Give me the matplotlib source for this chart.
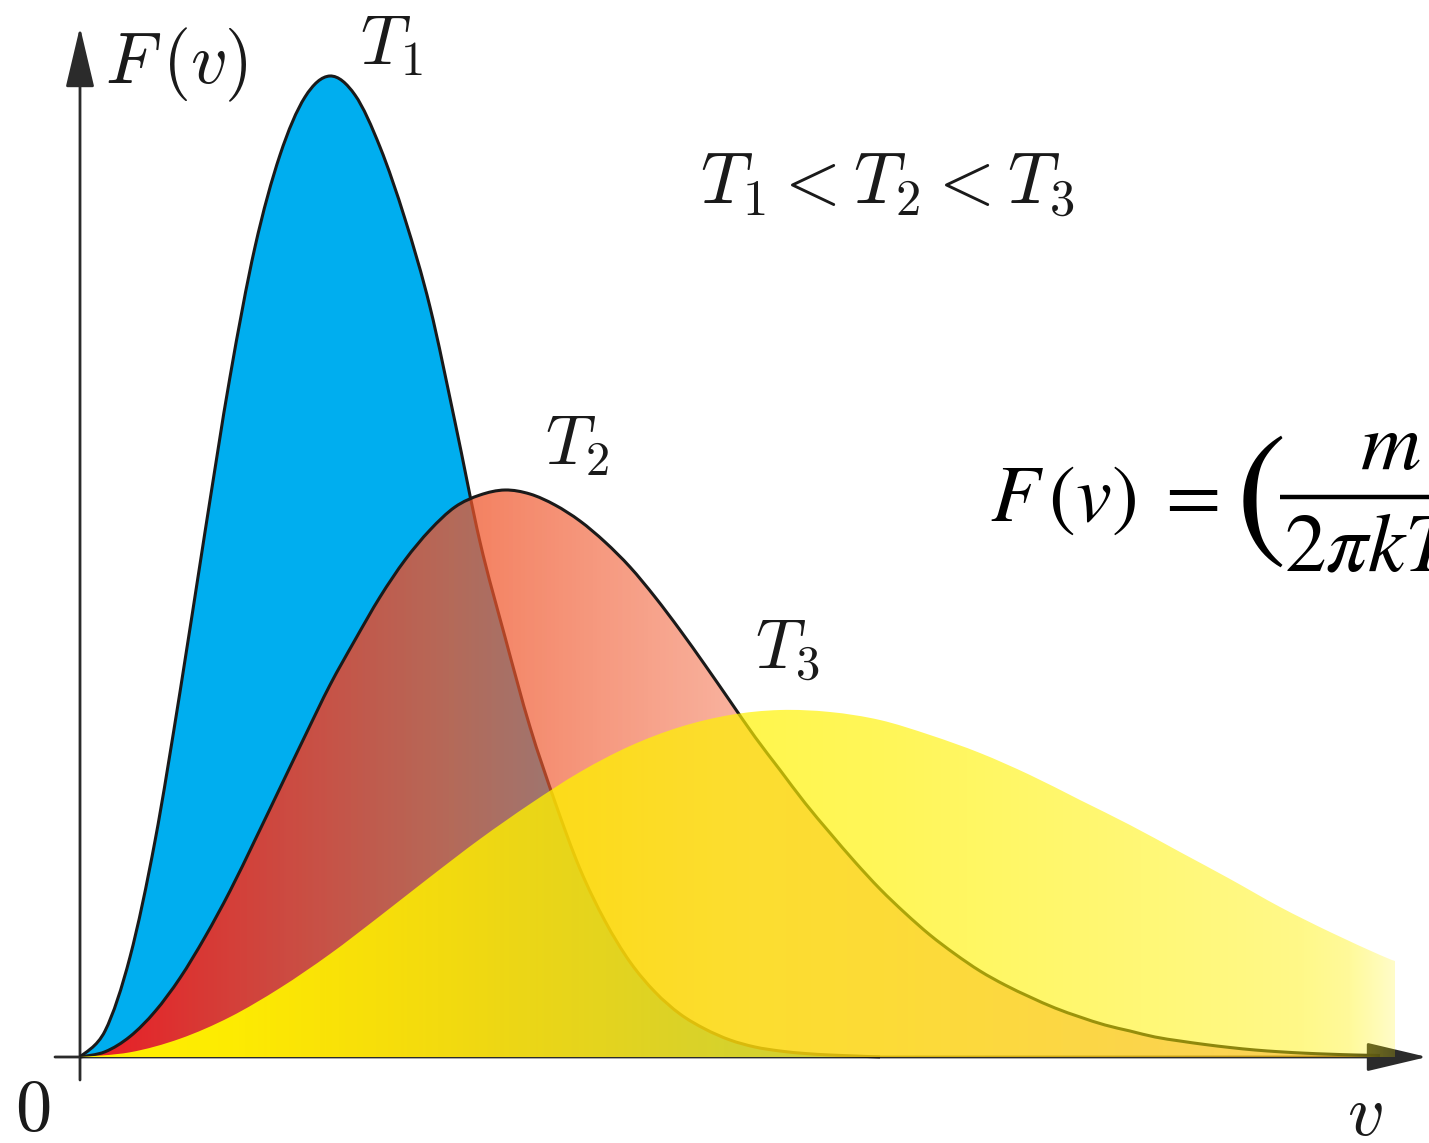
import numpy as np
import matplotlib
matplotlib.use("Agg")
import matplotlib.pyplot as plt
from matplotlib.patches import PathPatch, FancyArrowPatch
from matplotlib.path import Path

plt.rcParams['mathtext.fontset'] = 'cm'

# speed v and F(v) (arbitrary units)
T1_v = [0, 0.25, 0.5, 0.75, 1.0, 1.25, 1.5, 1.75, 2.0, 2.25, 2.5, 2.75, 3.0,
        3.25, 3.5, 3.75, 4.0, 4.25, 4.5, 4.75, 5.0, 5.25, 5.5, 5.75, 6.0,
        6.25, 6.5, 6.75, 7.0, 7.25, 7.5, 7.75, 8.0]
T1_F = [0, 0.26, 1.0, 2.16, 3.65, 5.25, 6.8, 8.1, 9.02, 9.6, 9.81, 9.62, 9.1,
        8.38, 7.5, 6.35, 5.15, 4.2, 3.3, 2.55, 1.88, 1.36, 0.95, 0.65, 0.43,
        0.28, 0.17, 0.1, 0.06, 0.035, 0.02, 0.01, 0.0]

T2_v = [0, 0.25, 0.5, 0.75, 1.0, 1.25, 1.5, 1.75, 2.0, 2.25, 2.5, 2.75, 3.0,
        3.25, 3.5, 3.75, 4.0, 4.25, 4.5, 4.75, 5.0, 5.25, 5.5, 5.75, 6.0,
        6.25, 6.5, 6.75, 7.0, 7.25, 7.5, 7.75, 8.0, 8.25, 8.5, 8.75, 9.0,
        9.25, 9.5, 9.75, 10.0, 10.25, 10.5, 10.75, 11.0, 11.25, 11.5, 11.75,
        12.0, 12.25, 12.5, 12.75, 13.0]
T2_F = [0, 0.052, 0.205, 0.455, 0.79, 1.2, 1.66, 2.17, 2.69, 3.21, 3.72, 4.17,
        4.6, 4.97, 5.27, 5.5, 5.62, 5.67, 5.63, 5.52, 5.36, 5.15, 4.9, 4.6,
        4.27, 3.92, 3.56, 3.2, 2.87, 2.54, 2.24, 1.95, 1.68, 1.44, 1.22, 1.03,
        0.86, 0.72, 0.6, 0.49, 0.4, 0.32, 0.26, 0.2, 0.16, 0.125, 0.095, 0.07,
        0.052, 0.038, 0.028, 0.02, 0.015]

T3_v = [0, 0.5, 1.0, 1.5, 2.0, 2.5, 3.0, 3.5, 4.0, 4.5, 5.0, 5.5, 6.0, 6.5,
        7.0, 7.5, 8.0, 8.5, 9.0, 9.5, 10.0, 10.5, 11.0, 11.5, 12.0, 12.5,
        13.0, 13.15]
T3_F = [0, 0.047, 0.183, 0.4, 0.69, 1.03, 1.41, 1.8, 2.18, 2.53, 2.85, 3.11,
        3.3, 3.42, 3.47, 3.45, 3.37, 3.22, 3.04, 2.82, 2.57, 2.32, 2.05, 1.78,
        1.5, 1.25, 1.02, 0.96]


def smooth_path(v, F, close=False):
    # bezier path through the read points (catmull-rom handles)
    p = np.column_stack([v, F]).astype(float)
    ext = np.vstack([p[0], p, p[-1]])
    verts = [p[0]]
    codes = [Path.MOVETO]
    for i in range(len(p) - 1):
        a, b, c, d = ext[i], ext[i + 1], ext[i + 2], ext[i + 3]
        verts += [b + (c - a) / 6.0, c - (d - b) / 6.0, c]
        codes += [Path.CURVE4] * 3
    if close:
        verts += [(p[-1, 0], 0), (p[0, 0], 0), p[0]]
        codes += [Path.LINETO, Path.LINETO, Path.CLOSEPOLY]
    return Path(verts, codes)


def gradient_fill(ax, v, F, stop_v, stop_rgb, stop_a, zorder):
    clip = PathPatch(smooth_path(v, F, close=True), facecolor='none', edgecolor='none')
    ax.add_patch(clip)
    xs = np.linspace(v[0], v[-1], 800)
    rgba = np.zeros((2, len(xs), 4))
    for i in range(3):
        rgba[:, :, i] = np.interp(xs, stop_v, [c[i] for c in stop_rgb])
    rgba[:, :, 3] = np.interp(xs, stop_v, stop_a)
    im = ax.imshow(rgba, extent=[v[0], v[-1], 0, max(F) + 0.1],
                   aspect='auto', origin='lower', interpolation='bilinear',
                   zorder=zorder)
    im.set_clip_path(clip)


fig = plt.figure(figsize=(14.29, 11.43), dpi=100)
ax = fig.add_axes([0, 0, 1, 1])
ax.axis('off')

axis_col = '#2b2b2b'
line_col = '#1a1a1a'
# axes with arrow heads
ax.add_patch(FancyArrowPatch((-0.25, 0), (13.47, 0), arrowstyle='-|>,head_length=1.9,head_width=0.45',
                             mutation_scale=20, lw=2.0, color=axis_col, zorder=1, shrinkA=0, shrinkB=0))
ax.add_patch(FancyArrowPatch((0, -0.23), (0, 10.3), arrowstyle='-|>,head_length=1.9,head_width=0.45',
                             mutation_scale=20, lw=2.0, color=axis_col, zorder=1, shrinkA=0, shrinkB=0))

# T1: solid blue
ax.add_patch(PathPatch(smooth_path(T1_v, T1_F, close=True), facecolor='#00aeef', lw=0, zorder=2))
ax.add_patch(PathPatch(smooth_path(T1_v, T1_F), facecolor='none', edgecolor=line_col, lw=2.2, zorder=3))

# T2: red -> salmon, fading
gradient_fill(ax, T2_v, T2_F,
              [0, 1.2, 3.7, 6.5, 13],
              [(0.93, 0.10, 0.14), (0.93, 0.18, 0.14), (0.94, 0.33, 0.16),
               (0.95, 0.38, 0.22), (0.95, 0.38, 0.22)],
              [1.0, 0.92, 0.76, 0.5, 0.45], zorder=4)
ax.add_patch(PathPatch(smooth_path(T2_v, T2_F), facecolor='none', edgecolor=line_col, lw=2.2, zorder=5))

# T3: yellow, fading to the right, no outline
gradient_fill(ax, T3_v, T3_F,
              [0, 1.5, 4.2, 6.0, 8.2, 12.2, 12.7, 13.15],
              [(1.0, 0.95, 0.0)] * 8,
              [1.0, 0.97, 0.8, 0.72, 0.65, 0.47, 0.4, 0.22], zorder=6)

ax.set_xlim(-0.8, 13.49)
ax.set_ylim(-0.86, 10.57)

tc = '#1a1a1a'
ax.text(0.25, 9.92, r'$F\,(v)$', fontsize=52, color=tc, va='center', ha='left')
ax.text(2.8, 10.12, r'$T_1$', fontsize=50, color=tc, va='center', ha='left')
ax.text(6.2, 8.72, r'$T_1 < T_2 < T_3$', fontsize=52, color=tc, va='center', ha='left')
ax.text(4.65, 6.12, r'$T_2$', fontsize=50, color=tc, va='center', ha='left')
ax.text(6.75, 4.07, r'$T_3$', fontsize=50, color=tc, va='center', ha='left')
ax.text(-0.47, -0.53, r'$0$', fontsize=52, color=tc, va='center', ha='center')
ax.text(12.85, -0.58, r'$v$', fontsize=52, color=tc, va='center', ha='center')

# formula (runs off the right edge as in the source picture)
fk = dict(color='black', math_fontfamily='stix')
ax.text(9.1, 5.58, r'$F\,(v)\;=$', fontsize=58, va='center', ha='left', **fk)
ax.text(11.55, 5.6, r'$($', fontsize=110, va='center', ha='left', **fk)
ax.plot([12.0, 13.6], [5.6, 5.6], color='black', lw=3.2, solid_capstyle='butt', zorder=8)
ax.text(13.1, 6.1, r'$m$', fontsize=60, va='center', ha='center', **fk)
ax.text(12.04, 5.1, r'$2\pi kT$', fontsize=60, va='center', ha='left', **fk)

fig.savefig('out.png', dpi=100)
